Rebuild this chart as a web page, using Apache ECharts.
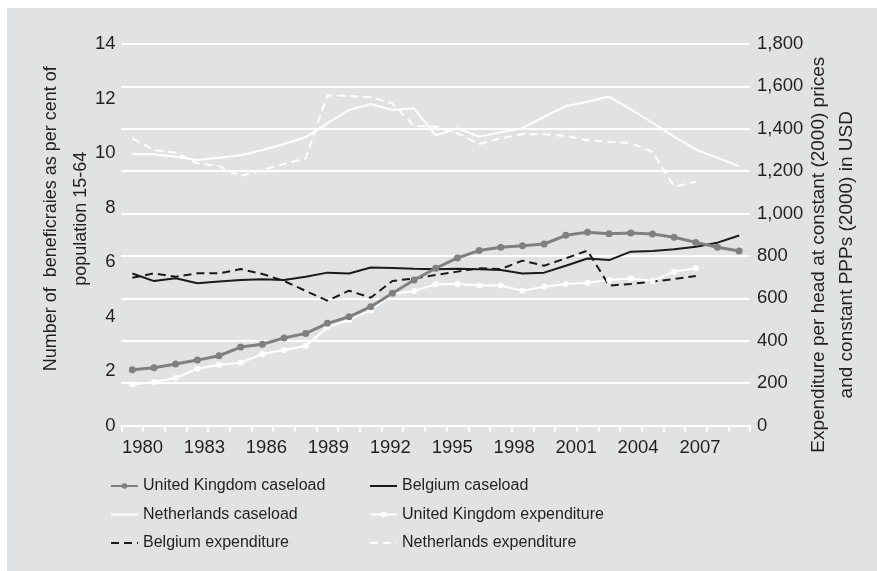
<!DOCTYPE html>
<html>
<head>
<meta charset="utf-8">
<script src="https://cdn.jsdelivr.net/npm/echarts@6/dist/echarts.min.js"></script>
<style>
	html, body { margin: 0; padding: 0; background: #fff; }
	#chart { width: 877px; height: 571px; }
</style>
</head>
<body>
<div id="chart"></div>
<script>
const years = ['1980', '1981', '1982', '1983', '1984', '1985', '1986', '1987', '1988', '1989', '1990', '1991', '1992', '1993', '1994',
	'1995', '1996', '1997', '1998', '1999', '2000', '2001', '2002', '2003', '2004', '2005', '2006', '2007', '2008']
const yearLabels = [1980, 1983, 1986, 1989, 1992, 1995, 1998, 2001, 2004, 2007]

// left axis: beneficiaries as % of population 15-64
const ukCaseload = [2.05, 2.12, 2.26, 2.40, 2.56, 2.88, 2.98, 3.21, 3.38, 3.75, 3.99, 4.36, 4.85, 5.34, 5.77,
	6.15, 6.42, 6.54, 6.60, 6.66, 6.98, 7.09, 7.04, 7.06, 7.03, 6.91, 6.72, 6.54, 6.40]
const beCaseload = [5.58, 5.30, 5.40, 5.22, 5.28, 5.34, 5.37, 5.34, 5.46, 5.61, 5.58, 5.80, 5.78, 5.75, 5.73,
	5.75, 5.73, 5.71, 5.58, 5.61, 5.86, 6.13, 6.07, 6.38, 6.40, 6.47, 6.56, 6.71, 6.97]
const nlCaseload = [9.95, 9.95, 9.86, 9.74, 9.83, 9.92, 10.11, 10.33, 10.58, 11.09, 11.58, 11.80, 11.58, 11.64, 10.64,
	10.91, 10.60, 10.76, 10.91, 11.33, 11.72, 11.88, 12.07, 11.60, 11.11, 10.60, 10.13, 9.82, 9.52]

// right axis: expenditure per head, USD
const ukExpenditure = [194, 205, 224, 268, 287, 296, 337, 356, 375, 463, 498, 543, 620, 635, 666,
	668, 660, 660, 636, 655, 668, 674, 686, 694, 682, 726, 742, null, null]
const beExpenditure = [697, 718, 702, 718, 718, 738, 715, 682, 635, 589, 636, 603, 682, 694, 710,
	726, 742, 738, 778, 754, 789, 825, 660, 668, 679, 691, 705, null, null]
const nlExpenditure = [1355, 1300, 1287, 1237, 1224, 1177, 1206, 1234, 1261, 1558, 1555, 1549, 1520, 1413, 1410,
	1379, 1328, 1355, 1375, 1374, 1366, 1347, 1338, 1332, 1292, 1127, 1150, null, null]

const font = '"Liberation Sans Narrow", "Arial Narrow", "Liberation Sans", sans-serif'
const textColor = '#231f20'
const bg = '#e1e2e4'
const noDot = { color: 'rgba(0,0,0,0)', borderWidth: 0 }

const legendBase = {
	orient: 'vertical',
	top: 476,
	padding: 0,
	itemWidth: 27,
	itemHeight: 7,
	itemGap: 8.5,
	textStyle: { fontFamily: font, fontSize: 16, color: textColor, lineHeight: 20 }
}

const chart = echarts.init(document.getElementById('chart'))

chart.setOption({
	backgroundColor: '#fff',
	animation: false,
	textStyle: { fontFamily: font, color: textColor },
	graphic: [
		{ type: 'rect', left: 7, top: 8, z: -10, shape: { width: 870, height: 563 }, style: { fill: bg } }
	],
	grid: {
		left: 121.5,
		right: 127,
		top: 44,
		bottom: 145.5
	},
	legend: [
		Object.assign({}, legendBase, {
			left: 110,
			data: [
				{ name: 'United Kingdom caseload' },
				{ name: 'Netherlands caseload', itemStyle: noDot },
				{ name: 'Belgium expenditure', itemStyle: noDot }
			]
		}),
		Object.assign({}, legendBase, {
			left: 369,
			data: [
				{ name: 'Belgium caseload', itemStyle: noDot },
				{ name: 'United Kingdom expenditure' },
				{ name: 'Netherlands expenditure', itemStyle: noDot }
			]
		})
	],
	xAxis: [
		{
			type: 'category',
			data: years,
			boundaryGap: true,
			axisLine: { lineStyle: { color: '#fff', width: 2 } },
			axisTick: { show: true, interval: 0, length: 6, lineStyle: { color: '#fff', width: 2 } },
			axisLabel: { show: false }
		},
		{
			type: 'value',
			position: 'bottom',
			min: 1978.983,
			max: 2009.42,
			axisLine: { show: false },
			axisTick: { show: false },
			splitLine: { show: false },
			axisLabel: {
				customValues: yearLabels,
				margin: 13,
				fontSize: 18.5,
				color: textColor,
				fontFamily: font,
				formatter: v => String(v)
			}
		}
	],
	yAxis: [
		{
			type: 'value',
			min: 0,
			max: 14,
			interval: 2,
			axisLine: { show: false, onZero: false },
			axisTick: { show: false },
			splitLine: { show: false },
			axisLabel: { margin: 6, fontSize: 18.5, color: textColor, fontFamily: font },
			name: 'Number of  beneficraies as per cent of\npopulation 15-64',
			nameLocation: 'middle',
			nameRotate: 90,
			nameGap: 25,
			nameMoveOverlap: false,
			nameTextStyle: { fontSize: 18, lineHeight: 30, color: textColor, fontFamily: font, padding: [0, 0, 0, 32] }
		},
		{
			type: 'value',
			min: 0,
			max: 1800,
			interval: 200,
			position: 'right',
			axisLine: { show: false, onZero: false },
			axisTick: { show: false },
			splitLine: { show: true, lineStyle: { color: '#fff', width: 2 } },
			axisLabel: { margin: 7, fontSize: 18.5, color: textColor, fontFamily: font },
			name: 'Expenditure per head at constant (2000) prices\nand constant PPPs (2000) in USD',
			nameLocation: 'middle',
			nameRotate: 90,
			nameGap: 55,
			nameMoveOverlap: false,
			nameTextStyle: { fontSize: 19, lineHeight: 28, color: textColor, fontFamily: font, padding: [0, 40, 0, 0] }
		}
	],
	series: [
		{
			name: 'Netherlands expenditure',
			type: 'line',
			yAxisIndex: 1,
			data: nlExpenditure,
			symbol: 'none',
			lineStyle: { color: '#fff', width: 2, type: [8, 5] },
			itemStyle: { color: '#fff' }
		},
		{
			name: 'Netherlands caseload',
			type: 'line',
			data: nlCaseload,
			symbol: 'none',
			lineStyle: { color: '#fff', width: 2 },
			itemStyle: { color: '#fff' }
		},
		{
			name: 'United Kingdom expenditure',
			type: 'line',
			yAxisIndex: 1,
			data: ukExpenditure,
			symbol: 'circle',
			symbolSize: 6,
			lineStyle: { color: '#fff', width: 2 },
			itemStyle: { color: '#fff' }
		},
		{
			name: 'Belgium expenditure',
			type: 'line',
			yAxisIndex: 1,
			data: beExpenditure,
			symbol: 'none',
			lineStyle: { color: '#1a1a1a', width: 2, type: [8, 5] },
			itemStyle: { color: '#1a1a1a' }
		},
		{
			name: 'Belgium caseload',
			type: 'line',
			data: beCaseload,
			symbol: 'none',
			lineStyle: { color: '#1a1a1a', width: 2 },
			itemStyle: { color: '#1a1a1a' }
		},
		{
			name: 'United Kingdom caseload',
			type: 'line',
			data: ukCaseload,
			symbol: 'circle',
			symbolSize: 7,
			lineStyle: { color: '#808080', width: 3 },
			itemStyle: { color: '#808080' }
		}
	]
})
</script>
</body>
</html>
